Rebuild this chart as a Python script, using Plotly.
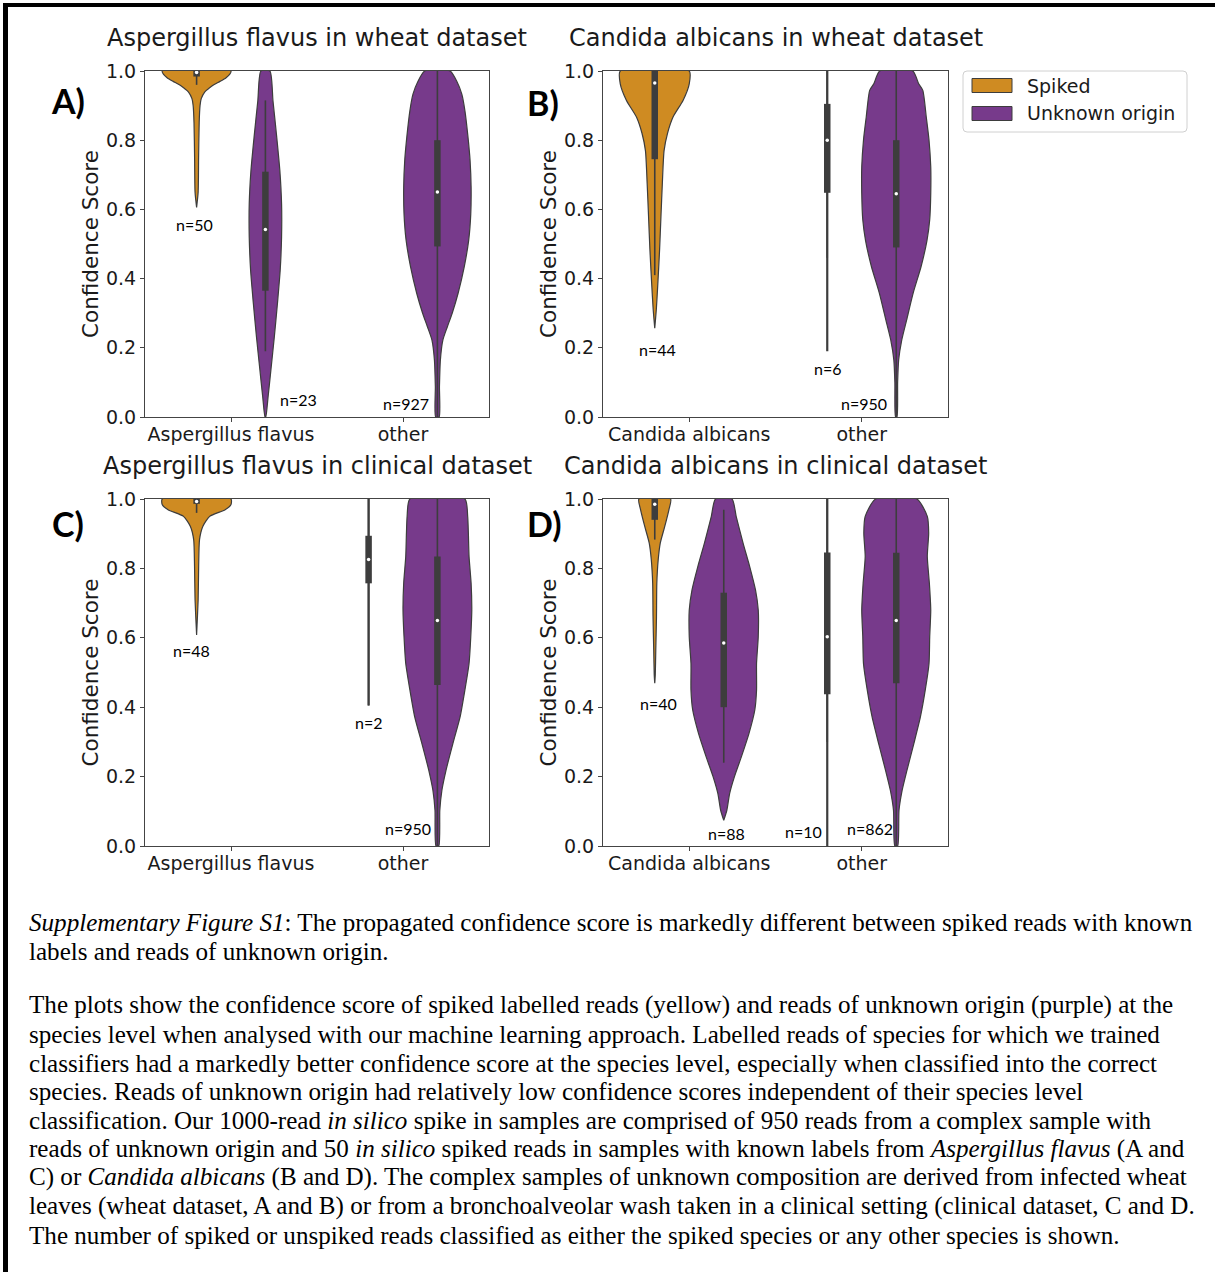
import plotly.graph_objects as go

W, H = 1215, 1272
ORANGE = "#cf8b22"
PURPLE = "#773a8b"
EDGE = "#3d3d3d"
TXT = "#1a1a1a"

# ------------------------------------------------------------------ data
HUES = ["Spiked", "Unknown origin"]

# Panel A : Aspergillus flavus in wheat dataset
A_title = "Aspergillus flavus in wheat dataset"
A_categories = ["Aspergillus flavus", "other"]
A_spk0_y = [1.0, 0.99, 0.98, 0.97, 0.96, 0.95, 0.94, 0.92, 0.90, 0.85, 0.75, 0.65, 0.606]
A_spk0_w = [1.0, 0.96, 0.85, 0.68, 0.50, 0.36, 0.24, 0.135, 0.10, 0.075, 0.058, 0.045, 0.0]
A_spk0_box = [0.96, 0.984, 0.996, 1.0, 1.0]
A_unk0_y = [1.0, 0.914, 0.808, 0.712, 0.616, 0.52, 0.424, 0.328, 0.232, 0.136, 0.06, 0.0]
A_unk0_w = [0.13, 0.22, 0.33, 0.42, 0.47, 0.47, 0.43, 0.35, 0.26, 0.16, 0.08, 0.01]
A_unk0_box = [0.19, 0.365, 0.542, 0.709, 0.915]
A_unk1_y = [1.0, 0.971, 0.933, 0.885, 0.808, 0.741, 0.664, 0.587, 0.511, 0.434, 0.357, 0.30, 0.261, 0.223, 0.165, 0.088, 0.0]
A_unk1_w = [0.37, 0.56, 0.71, 0.80, 0.89, 0.95, 0.98, 0.97, 0.91, 0.78, 0.60, 0.43, 0.29, 0.16, 0.087, 0.06, 0.05]
A_unk1_box = [0.0, 0.493, 0.65, 0.80, 1.0]
A_n = ["n=50", "n=23", "n=927"]

# Panel B : Candida albicans in wheat dataset
B_title = "Candida albicans in wheat dataset"
B_categories = ["Candida albicans", "other"]
B_spk0_y = [1.0, 0.963, 0.915, 0.867, 0.82, 0.77, 0.675, 0.58, 0.483, 0.387, 0.31, 0.257]
B_spk0_w = [1.0, 1.0, 0.82, 0.53, 0.37, 0.27, 0.22, 0.18, 0.14, 0.09, 0.045, 0.0]
B_spk0_box = [0.41, 0.745, 0.965, 1.0, 1.0]
B_spk1_y = [1.0, 0.19]
B_spk1_w = [0.0, 0.0]
B_spk1_box = [0.46, 0.648, 0.80, 0.905, 1.0]
B_unk1_y = [1.0, 0.963, 0.944, 0.867, 0.80, 0.723, 0.646, 0.57, 0.51, 0.435, 0.358, 0.28, 0.223, 0.165, 0.10, 0.0]
B_unk1_w = [0.48, 0.65, 0.77, 0.87, 0.95, 1.0, 1.0, 0.97, 0.89, 0.72, 0.49, 0.30, 0.16, 0.07, 0.04, 0.02]
B_unk1_box = [0.0, 0.49, 0.645, 0.80, 1.0]
B_n = ["n=44", "n=6", "n=950"]

# Panel C : Aspergillus flavus in clinical dataset
C_title = "Aspergillus flavus in clinical dataset"
C_categories = ["Aspergillus flavus", "other"]
C_spk0_y = [1.0, 0.984, 0.969, 0.95, 0.921, 0.883, 0.806, 0.71, 0.608]
C_spk0_w = [1.0, 1.0, 0.83, 0.38, 0.18, 0.085, 0.06, 0.045, 0.0]
C_spk0_box = [0.96, 0.986, 0.993, 1.0, 1.0]
C_spk1_y = [1.0, 0.405]
C_spk1_w = [0.0, 0.0]
C_spk1_box = [0.405, 0.757, 0.826, 0.894, 1.0]
C_unk1_y = [1.0, 0.95, 0.902, 0.834, 0.757, 0.68, 0.603, 0.526, 0.45, 0.372, 0.295, 0.218, 0.16, 0.103, 0.0]
C_unk1_w = [0.80, 0.88, 0.90, 0.92, 0.98, 1.0, 0.97, 0.92, 0.80, 0.66, 0.45, 0.25, 0.13, 0.07, 0.04]
C_unk1_box = [0.0, 0.464, 0.65, 0.834, 1.0]
C_n = ["n=48", "n=2", "n=950"]

# Panel D : Candida albicans in clinical dataset
D_title = "Candida albicans in clinical dataset"
D_categories = ["Candida albicans", "other"]
D_spk0_y = [1.0, 0.969, 0.921, 0.873, 0.825, 0.757, 0.661, 0.565, 0.493, 0.469]
D_spk0_w = [0.46, 0.41, 0.29, 0.16, 0.10, 0.06, 0.05, 0.03, 0.015, 0.0]
D_spk0_box = [0.883, 0.94, 0.985, 1.0, 1.0]
D_unk0_y = [1.0, 0.95, 0.873, 0.806, 0.738, 0.68, 0.603, 0.526, 0.449, 0.392, 0.324, 0.257, 0.20, 0.151, 0.103, 0.074]
D_unk0_w = [0.24, 0.36, 0.56, 0.75, 0.92, 1.0, 1.0, 0.95, 0.95, 0.90, 0.73, 0.51, 0.31, 0.17, 0.09, 0.0]
D_unk0_box = [0.24, 0.40, 0.585, 0.73, 0.969]
D_spk1_y = [1.0, 0.0]
D_spk1_w = [0.0, 0.0]
D_spk1_box = [0.30, 0.437, 0.603, 0.846, 1.0]
D_unk1_y = [1.0, 0.95, 0.902, 0.834, 0.757, 0.68, 0.603, 0.526, 0.449, 0.372, 0.295, 0.218, 0.16, 0.103, 0.0]
D_unk1_w = [0.60, 0.90, 0.94, 0.90, 0.96, 1.0, 0.97, 0.95, 0.84, 0.70, 0.51, 0.31, 0.17, 0.08, 0.04]
D_unk1_box = [0.0, 0.469, 0.65, 0.845, 1.0]
D_n = ["n=40", "n=88", "n=10", "n=862"]

Y_TICKS = [0.0, 0.2, 0.4, 0.6, 0.8, 1.0]
Y_LABEL = "Confidence Score"

CAPTION = [
    "<i>Supplementary Figure S1</i>: The propagated confidence score is markedly different between spiked reads with known",
    "labels and reads of unknown origin.",
    "The plots show the confidence score of spiked labelled reads (yellow) and reads of unknown origin (purple) at the",
    "species level when analysed with our machine learning approach. Labelled reads of species for which we trained",
    "classifiers had a markedly better confidence score at the species level, especially when classified into the correct",
    "species. Reads of unknown origin had relatively low confidence scores independent of their species level",
    "classification. Our 1000-read <i>in silico</i> spike in samples are comprised of 950 reads from a complex sample with",
    "reads of unknown origin and 50 <i>in silico</i> spiked reads in samples with known labels from <i>Aspergillus flavus</i> (A and",
    "C) or <i>Candida albicans</i> (B and D). The complex samples of unknown composition are derived from infected wheat",
    "leaves (wheat dataset, A and B) or from a bronchoalveolar wash taken in a clinical setting (clinical dataset, C and D.",
    "The number of spiked or unspiked reads classified as either the spiked species or any other species is shown.",
]

# ------------------------------------------------------------------ layout geometry (pixels)
DODGE = 0.2
HALF = 0.2
panels = [
    dict(key="A", title=A_title, cats=A_categories, px=(145, 489), py=(71, 417), letter_xy=(68, 101),
         violins=[(0, 0, A_spk0_y, A_spk0_w, A_spk0_box),
                  (0, 1, A_unk0_y, A_unk0_w, A_unk0_box),
                  (1, 1, A_unk1_y, A_unk1_w, A_unk1_box)],
         nlab=A_n, npos=[(-0.21, 0.555), (0.393, 0.05), (1.02, 0.04)]),
    dict(key="B", title=B_title, cats=B_categories, px=(603, 948), py=(71, 417), letter_xy=(543, 102),
         violins=[(0, 0, B_spk0_y, B_spk0_w, B_spk0_box),
                  (1, 0, B_spk1_y, B_spk1_w, B_spk1_box),
                  (1, 1, B_unk1_y, B_unk1_w, B_unk1_box)],
         nlab=B_n, npos=[(-0.184, 0.196), (0.804, 0.141), (1.014, 0.04)]),
    dict(key="C", title=C_title, cats=C_categories, px=(145, 489), py=(499, 846), letter_xy=(68, 523),
         violins=[(0, 0, C_spk0_y, C_spk0_w, C_spk0_box),
                  (1, 0, C_spk1_y, C_spk1_w, C_spk1_box),
                  (1, 1, C_unk1_y, C_unk1_w, C_unk1_box)],
         nlab=C_n, npos=[(-0.229, 0.562), (0.8, 0.357), (1.028, 0.051)]),
    dict(key="D", title=D_title, cats=D_categories, px=(603, 948), py=(499, 846), letter_xy=(544, 523),
         violins=[(0, 0, D_spk0_y, D_spk0_w, D_spk0_box),
                  (0, 1, D_unk0_y, D_unk0_w, D_unk0_box),
                  (1, 0, D_spk1_y, D_spk1_w, D_spk1_box),
                  (1, 1, D_unk1_y, D_unk1_w, D_unk1_box)],
         nlab=D_n, npos=[(-0.18, 0.412), (0.215, 0.037), (0.66, 0.042), (1.045, 0.051)]),
]

def fx(p):
    return p / W

def fy(p):
    return 1 - p / H

fig = go.Figure()
annotations = []
shapes = []
layout_axes = {}
FILL = [ORANGE, PURPLE]

for i, p in enumerate(panels, start=1):
    xa = "x" if i == 1 else f"x{i}"
    ya = "y" if i == 1 else f"y{i}"
    for cat, hue, ys, ws, box in p["violins"]:
        c = cat + (-DODGE if hue == 0 else DODGE)
        xs_r = [c + w * HALF for w in ws]
        xs_l = [c - w * HALF for w in ws][::-1]
        thin = max(ws) == 0
        fig.add_trace(go.Scatter(
            x=xs_r + xs_l + [xs_r[0]], y=list(ys) + list(ys)[::-1] + [ys[0]],
            xaxis=xa, yaxis=ya, mode="lines", fill="none" if thin else "toself",
            fillcolor=FILL[hue],
            line=dict(color=EDGE, width=2.2 if thin else 1.2, shape="spline", smoothing=0.6),
            hoverinfo="skip", showlegend=False))
        lo, q1, med, q3, hi = box
        fig.add_trace(go.Scatter(x=[c, c], y=[lo, hi], xaxis=xa, yaxis=ya, mode="lines",
                                 line=dict(color=EDGE, width=1.6), hoverinfo="skip", showlegend=False))
        fig.add_trace(go.Scatter(x=[c, c], y=[q1, q3], xaxis=xa, yaxis=ya, mode="lines",
                                 line=dict(color=EDGE, width=6.5), hoverinfo="skip", showlegend=False))
        fig.add_trace(go.Scatter(x=[c], y=[med], xaxis=xa, yaxis=ya, mode="markers",
                                 marker=dict(color="white", size=3.5), hoverinfo="skip", showlegend=False))

    x0, x1 = p["px"]
    y0, y1 = p["py"]
    axname_x = "xaxis" if i == 1 else f"xaxis{i}"
    axname_y = "yaxis" if i == 1 else f"yaxis{i}"
    layout_axes[axname_x] = dict(
        domain=[fx(x0), fx(x1)], anchor=ya, range=[-0.5, 1.5], tickvals=[0, 1], ticktext=p["cats"],
        showline=True, mirror=True, linecolor="#444444", linewidth=1, ticks="outside", ticklen=4,
        tickcolor="#444444", showgrid=False, zeroline=False, fixedrange=True, automargin=False,
        ticklabelstandoff=-4,
        tickfont=dict(family="DejaVu Sans", size=19, color=TXT))
    layout_axes[axname_y] = dict(
        domain=[fy(y1), fy(y0)], anchor=xa, range=[0, 1], tickvals=Y_TICKS,
        ticktext=[f"{v:.1f}" for v in Y_TICKS],
        showline=True, mirror=True, linecolor="#444444", linewidth=1, ticks="outside", ticklen=4,
        tickcolor="#444444", showgrid=False, zeroline=False, fixedrange=True, automargin=False,
        tickfont=dict(family="DejaVu Sans", size=19, color=TXT))

    # title
    annotations.append(dict(text=p["title"], xref="paper", yref="paper", x=fx((x0 + x1) / 2),
                            y=fy(y0 - 33), xanchor="center", yanchor="middle", showarrow=False,
                            font=dict(family="DejaVu Sans", size=24, color=TXT)))
    # y label
    annotations.append(dict(text=Y_LABEL, xref="paper", yref="paper", x=fx(x0 - 55),
                            y=fy((y0 + y1) / 2), xanchor="center", yanchor="middle", textangle=-90,
                            showarrow=False, font=dict(family="DejaVu Sans", size=21.5, color=TXT)))
    # panel letter
    lx, ly = p["letter_xy"]
    annotations.append(dict(text=f"<b>{p['key']})</b>", xref="paper", yref="paper", x=fx(lx), y=fy(ly),
                            xanchor="center", yanchor="middle", showarrow=False,
                            font=dict(family="Lato", size=34, color="black")))
    # n labels
    for t, (nx, ny) in zip(p["nlab"], p["npos"]):
        annotations.append(dict(text=t, xref=xa, yref=ya, x=nx, y=ny, xanchor="center",
                                yanchor="middle", showarrow=False,
                                font=dict(family="Lato", size=16, color="black")))

# legend (manual)
def rrect(x0, y0, x1, y1, r):
    X = lambda v: fx(v)
    Y = lambda v: fy(v)
    return (f"M {X(x0 + r)},{Y(y0)} L {X(x1 - r)},{Y(y0)} Q {X(x1)},{Y(y0)} {X(x1)},{Y(y0 + r)} "
            f"L {X(x1)},{Y(y1 - r)} Q {X(x1)},{Y(y1)} {X(x1 - r)},{Y(y1)} "
            f"L {X(x0 + r)},{Y(y1)} Q {X(x0)},{Y(y1)} {X(x0)},{Y(y1 - r)} "
            f"L {X(x0)},{Y(y0 + r)} Q {X(x0)},{Y(y0)} {X(x0 + r)},{Y(y0)} Z")

shapes.append(dict(type="path", xref="paper", yref="paper", path=rrect(963, 71, 1187, 132, 4),
                   line=dict(color="#d0d0d0", width=1), fillcolor="white"))
for k, (name, col) in enumerate(zip(HUES, FILL)):
    cy = 85.5 + k * 28
    shapes.append(dict(type="rect", xref="paper", yref="paper", x0=fx(972), x1=fx(1012),
                       y0=fy(cy + 7), y1=fy(cy - 7), fillcolor=col, line=dict(color=EDGE, width=1)))
    annotations.append(dict(text=name, xref="paper", yref="paper", x=fx(1025), y=fy(cy),
                            xanchor="left", yanchor="middle", showarrow=False,
                            font=dict(family="DejaVu Sans", size=19, color=TXT)))

# figure frame (top and left rules)
shapes.append(dict(type="rect", xref="paper", yref="paper", x0=fx(3), x1=fx(1215), y0=fy(7), y1=fy(3),
                   fillcolor="black", line=dict(width=0)))
shapes.append(dict(type="rect", xref="paper", yref="paper", x0=fx(3), x1=fx(8), y0=fy(1272), y1=fy(3),
                   fillcolor="black", line=dict(width=0)))

# caption
cap_y = [922, 951, 1005, 1034, 1063, 1091, 1120, 1149, 1177, 1206, 1235]
for line, yy in zip(CAPTION, cap_y):
    annotations.append(dict(text=line, xref="paper", yref="paper", x=fx(27), y=fy(yy),
                            xanchor="left", yanchor="middle", showarrow=False,
                            font=dict(family="Liberation Serif", size=25.1, color="black")))

fig.update_layout(
    template="none",
    width=W, height=H, autosize=False,
    margin=dict(l=0, r=0, t=0, b=0, pad=0, autoexpand=False),
    paper_bgcolor="white", plot_bgcolor="white",
    showlegend=False,
    annotations=annotations, shapes=shapes,
    **layout_axes,
)

fig.write_html(
    "out.html",
    config={"displayModeBar": False},
    post_script=("document.documentElement.style.margin='0px';"
                 "document.body.style.margin='0px';"
                 "document.body.style.padding='0px';"
                 "document.body.style.overflow='hidden';"
                 "document.documentElement.style.overflow='hidden';"
                 "var gd=document.getElementById('{plot_id}');"
                 "gd.style.position='fixed';gd.style.left='0px';gd.style.top='0px';"),
)
